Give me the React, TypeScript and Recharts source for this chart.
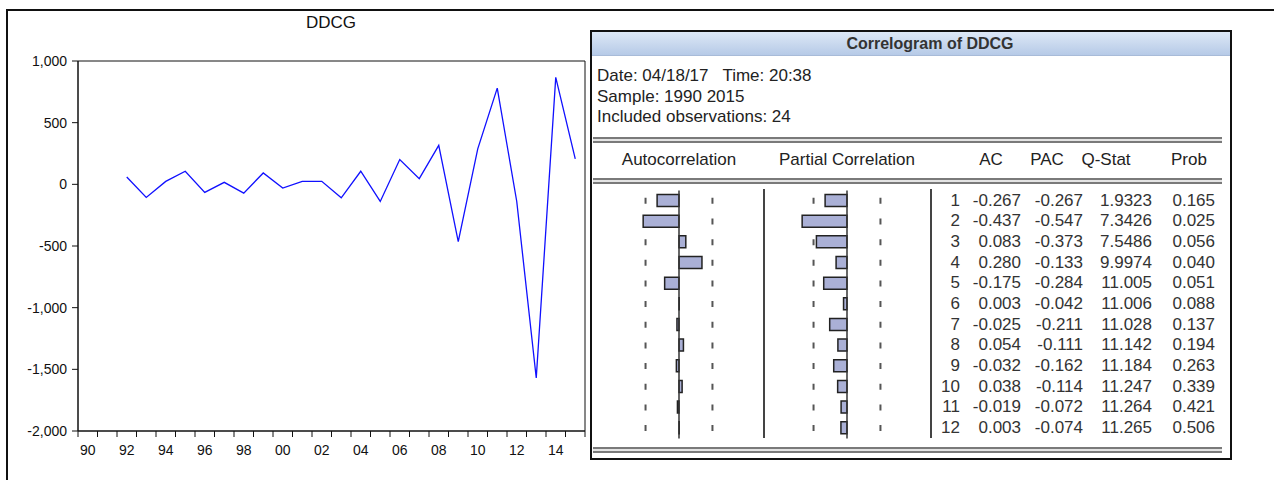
import {
  LineChart,
  Line,
  XAxis,
  YAxis,
  ReferenceArea,
  BarChart,
  Bar,
  ReferenceLine,
} from "recharts";

const FONT = '"Liberation Sans", Arial, sans-serif';

// DDCG, second difference, 1992-2015
const obsYears = [
  1992, 1993, 1994, 1995, 1996, 1997, 1998, 1999, 2000, 2001, 2002, 2003,
  2004, 2005, 2006, 2007, 2008, 2009, 2010, 2011, 2012, 2013, 2014, 2015,
];
const ddcgValues = [
  60, -106, 24, 106, -65, 16, -71, 92, -30, 24, 24, -109, 106, -139, 201, 46,
  316, -464, 288, 780, -139, -1570, 867, 207,
];
const yearTicks = [
  1990, 1991, 1992, 1993, 1994, 1995, 1996, 1997, 1998, 1999, 2000, 2001,
  2002, 2003, 2004, 2005, 2006, 2007, 2008, 2009, 2010, 2011, 2012, 2013,
  2014, 2015, 2016,
];
const valueTicks = [-2000, -1500, -1000, -500, 0, 500, 1000];

// correlogram table
const lags = [1, 2, 3, 4, 5, 6, 7, 8, 9, 10, 11, 12];
const acValues = [
  -0.267, -0.437, 0.083, 0.28, -0.175, 0.003, -0.025, 0.054, -0.032, 0.038,
  -0.019, 0.003,
];
const pacValues = [
  -0.267, -0.547, -0.373, -0.133, -0.284, -0.042, -0.211, -0.111, -0.162,
  -0.114, -0.072, -0.074,
];
const qStats = [
  1.9323, 7.3426, 7.5486, 9.9974, 11.005, 11.006, 11.028, 11.142, 11.184,
  11.247, 11.264, 11.265,
];
const probs = [
  0.165, 0.025, 0.056, 0.04, 0.051, 0.088, 0.137, 0.194, 0.263, 0.339, 0.421,
  0.506,
];
const ciBound = 0.408; // 2/sqrt(24)

const PLOT_W = 507;
const HALF_BAND = PLOT_W / (yearTicks.length - 1) / 2;

const ROW_TOP = 190.7;
const ROW_H = 20.66;

function YearTick(props: any) {
  const { x, y, payload } = props;
  const yr = payload.value as number;
  if (yr % 2 !== 0 || yr >= 2016) return <g />;
  return (
    <text
      x={x + HALF_BAND}
      y={y}
      dy="0.71em"
      textAnchor="middle"
      fontSize={14}
      fontFamily={FONT}
      fill="#111"
    >
      {String(yr).slice(2)}
    </text>
  );
}

// bars sit in a chart layered over the one holding the dashed bounds,
// so a long bar hides the dash behind it
function CorrBars({ values, left }: { values: number[]; left: number }) {
  const data = lags.map((lag, i) => ({ lag, v: values[i] }));
  const dims = {
    layout: "vertical" as const,
    width: 164,
    height: ROW_H * 12 + 3,
    data,
    margin: { top: 1.5, right: 0, bottom: 1.5, left: 0 },
  };
  const dash = {
    stroke: "#555",
    strokeWidth: 2,
    strokeDasharray: "0 7.33 6 7.33",
  };
  return (
    <>
      <div style={{ position: "absolute", left, top: ROW_TOP - 1.5 }}>
        <BarChart {...dims}>
          <XAxis type="number" domain={[-1, 1]} hide />
          <YAxis type="category" dataKey="lag" hide />
          <Bar
            dataKey="v"
            fill="none"
            stroke="none"
            barSize={12}
            isAnimationActive={false}
          />
          <ReferenceLine x={-ciBound} {...dash} />
          <ReferenceLine x={ciBound} {...dash} />
        </BarChart>
      </div>
      <div style={{ position: "absolute", left, top: ROW_TOP - 1.5 }}>
        <BarChart {...dims}>
          <XAxis type="number" domain={[-1, 1]} hide />
          <YAxis type="category" dataKey="lag" hide />
          <Bar
            dataKey="v"
            fill="#aab0d6"
            stroke="#222"
            strokeWidth={1.5}
            barSize={12}
            isAnimationActive={false}
          />
          <ReferenceLine x={0} stroke="#333" strokeWidth={1.5} />
        </BarChart>
      </div>
    </>
  );
}

const abs = (s: React.CSSProperties): React.CSSProperties => ({
  position: "absolute",
  ...s,
});

function DoubleRule({ top }: { top: number }) {
  return (
    <div
      style={abs({
        left: 593,
        top,
        width: 629,
        height: 2,
        borderTop: "2px solid #7a7a7a",
        borderBottom: "2px solid #7a7a7a",
        background: "#e4e4e4",
      })}
    />
  );
}

function Cell({ right, top, text }: { right: number; top: number; text: string }) {
  return (
    <div
      style={abs({
        left: right - 90,
        width: 90,
        top,
        height: ROW_H,
        lineHeight: `${ROW_H}px`,
        textAlign: "right",
      })}
    >
      {text}
    </div>
  );
}

export default function App() {
  const lineData = obsYears.map((yr, i) => ({ t: yr + 0.5, ddcg: ddcgValues[i] }));

  return (
    <div
      style={abs({
        left: 0,
        top: 0,
        width: 1274,
        height: 480,
        background: "#fff",
        fontFamily: FONT,
        overflow: "hidden",
      })}
    >
      {/* outer frame */}
      <div
        style={abs({
          left: 6,
          top: 9,
          width: 1270,
          height: 475,
          borderTop: "2px solid #111",
          borderLeft: "2px solid #111",
        })}
      />

      <div style={abs({ left: 231, width: 200, top: 13, textAlign: "center", fontSize: 17, color: "#111" })}>
        DDCG
      </div>

      <div style={abs({ left: 0, top: 0 })}>
        <LineChart
          width={600}
          height={480}
          data={lineData}
          margin={{ top: 61, right: 15, bottom: 19, left: 18 }}
        >
          <XAxis
            dataKey="t"
            type="number"
            domain={[1990, 2016]}
            ticks={yearTicks}
            interval={0}
            height={30}
            tickSize={6}
            tickMargin={8}
            tick={YearTick}
            stroke="#111"
          />
          <YAxis
            type="number"
            domain={[-2000, 1000]}
            ticks={valueTicks}
            interval={0}
            width={60}
            tickSize={6}
            tickMargin={5}
            tickFormatter={(v: number) => v.toLocaleString("en-US")}
            tick={{ fontSize: 14, fill: "#111", fontFamily: FONT }}
            stroke="#111"
          />
          <ReferenceArea
            x1={1990}
            x2={2016}
            y1={-2000}
            y2={1000}
            fill="none"
            stroke="#111"
            strokeWidth={1}
          />
          <Line
            dataKey="ddcg"
            stroke="#1010ff"
            strokeWidth={1.3}
            dot={false}
            isAnimationActive={false}
          />
        </LineChart>
      </div>

      {/* correlogram panel */}
      <div
        style={abs({
          left: 590,
          top: 30,
          width: 642,
          height: 430,
          border: "2px solid #111",
          boxSizing: "border-box",
        })}
      />
      <div
        style={abs({
          left: 592,
          top: 32,
          width: 638,
          height: 23,
          background: "linear-gradient(#dde8f6, #b6cae7)",
          borderBottom: "1px solid #a8bbd8",
        })}
      />
      <div
        style={abs({
          left: 780,
          width: 300,
          top: 32,
          height: 23,
          lineHeight: "23px",
          textAlign: "center",
          fontWeight: "bold",
          fontSize: 16,
          color: "#333",
        })}
      >
        Correlogram of DDCG
      </div>

      <div style={abs({ left: 597, top: 66, fontSize: 17, lineHeight: "20.5px", color: "#222", whiteSpace: "pre" })}>
        {"Date: 04/18/17   Time: 20:38\nSample: 1990 2015\nIncluded observations: 24"}
      </div>

      <DoubleRule top={137} />
      <DoubleRule top={178} />
      <DoubleRule top={447} />

      <div style={abs({ left: 0, top: 150, width: 1274, height: 20, fontSize: 17, color: "#222", lineHeight: "20px" })}>
        <div style={abs({ left: 579, width: 200, textAlign: "center" })}>Autocorrelation</div>
        <div style={abs({ left: 747, width: 200, textAlign: "center" })}>Partial Correlation</div>
        <div style={abs({ left: 951, width: 80, textAlign: "center" })}>AC</div>
        <div style={abs({ left: 1007, width: 80, textAlign: "center" })}>PAC</div>
        <div style={abs({ left: 1066, width: 80, textAlign: "center" })}>Q-Stat</div>
        <div style={abs({ left: 1149, width: 80, textAlign: "center" })}>Prob</div>
      </div>

      <CorrBars values={acValues} left={597} />
      <CorrBars values={pacValues} left={765} />

      {/* column separators */}
      <div style={abs({ left: 763, top: 189, width: 0, height: 249, borderLeft: "2px solid #444" })} />
      <div style={abs({ left: 930, top: 189, width: 0, height: 249, borderLeft: "2px solid #444" })} />

      <div style={abs({ left: 0, top: 0, fontSize: 17, color: "#333" })}>
        {lags.map((lag, i) => {
          const top = ROW_TOP + i * ROW_H;
          return (
            <div key={lag}>
              <Cell right={960} top={top} text={String(lag)} />
              <Cell right={1021} top={top} text={acValues[i].toFixed(3)} />
              <Cell right={1083} top={top} text={pacValues[i].toFixed(3)} />
              <Cell right={1152} top={top} text={qStats[i].toPrecision(5)} />
              <Cell right={1215} top={top} text={probs[i].toFixed(3)} />
            </div>
          );
        })}
      </div>
    </div>
  );
}
